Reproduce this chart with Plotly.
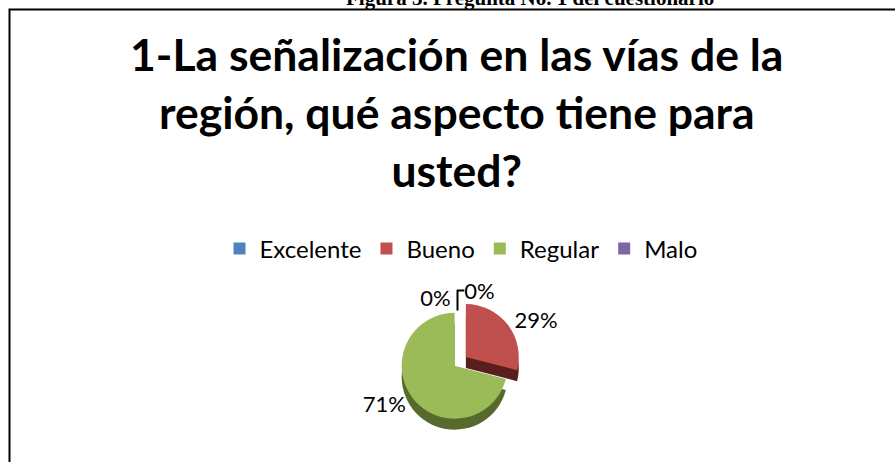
import plotly.graph_objects as go

categories = ["Excelente", "Bueno", "Regular", "Malo"]
values = [0, 29, 71, 0]
colors = ["#4F81BD", "#C0504D", "#9BBB59", "#8064A2"]
side_colors = ["#2C4D75", "#5A1F1D", "#556A2B", "#4B3A62"]

title_text = "<b>1-La señalización en las vías de la<br>región, qué aspecto tiene para<br>usted?</b>"
caption_text = "<b>Figura 3. Pregunta No. 1 del cuestionario</b>"

W, H = 895, 462
FONT = "Lato"

def px_x(x):
    return x / W

def px_y(y):
    return 1 - y / H

pulls = [0, 0.2, 0.07, 0]
dom_x = [px_x(345), px_x(570)]

fig = go.Figure()

# side (depth) of 3D pie
fig.add_trace(go.Pie(
    labels=categories, values=values, sort=False, direction="clockwise",
    rotation=0, pull=pulls,
    marker=dict(colors=side_colors, line=dict(width=0)),
    textinfo="none", showlegend=False, hoverinfo="skip",
    domain=dict(x=dom_x, y=[px_y(438), px_y(311)]),
))

fig.add_trace(go.Pie(
    labels=categories, values=values, sort=False, direction="clockwise",
    rotation=0, pull=pulls,
    marker=dict(colors=colors, line=dict(width=0)),
    texttemplate="%{percent:.0%}", textposition="outside",
    textfont=dict(family=FONT, size=22, color="#000000"),
    outsidetextfont=dict(family=FONT, size=22, color="#000000"),
    domain=dict(x=dom_x, y=[px_y(427), px_y(300)]),
    showlegend=True,
))

annotations = [
    dict(text=caption_text, x=px_x(530), y=px_y(12), xref="paper", yref="paper",
         xanchor="center", yanchor="bottom", showarrow=False,
         font=dict(family="Liberation Serif", size=21, color="#000000")),
    dict(text=title_text, x=px_x(457), y=px_y(25), xref="paper", yref="paper",
         xanchor="center", yanchor="top", showarrow=False,
         font=dict(family=FONT, size=44.5, color="#000000")),
]

fig.update_layout(
    width=W, height=H,
    margin=dict(l=0, r=0, t=0, b=0),
    paper_bgcolor="#FFFFFF", plot_bgcolor="#FFFFFF",
    font=dict(family=FONT, color="#000000"),
    legend=dict(orientation="h", x=px_x(461), xanchor="center",
                y=px_y(249), yanchor="middle",
                font=dict(family=FONT, size=24, color="#000000"),
                traceorder="normal"),
    annotations=annotations,
    shapes=[dict(type="rect", xref="paper", yref="paper",
                 x0=px_x(9.5), x1=1.2, y0=-0.2, y1=px_y(9.5),
                 line=dict(color="#000000", width=2))],
)

fig.write_html(
    "out.html",
    config={"displayModeBar": False},
    post_script="document.body.style.margin='0px';document.body.style.overflow='hidden';",
)
